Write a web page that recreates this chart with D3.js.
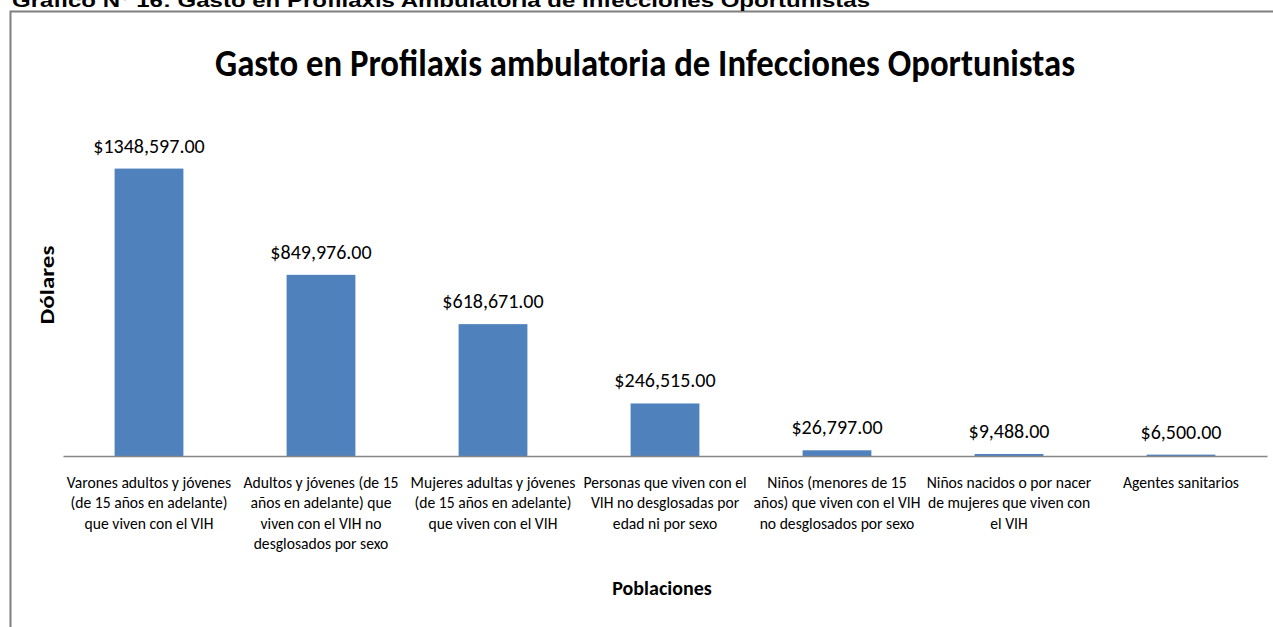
<!DOCTYPE html>
<html lang="es">
<head>
<meta charset="UTF-8">
<title>Gasto en Profilaxis ambulatoria</title>
<style>
  body { margin: 0; background: #fff; }
  svg { display: block; }
</style>
</head>
<body>
<svg width="1273" height="627"></svg>
<script src="https://d3js.org/d3.v7.min.js"></script>
<script>
// data
const categories = [
  ["Varones adultos y jóvenes", "(de 15 años en adelante)", "que viven con el VIH"],
  ["Adultos y jóvenes (de 15", "años en adelante) que", "viven con el VIH no", "desglosados por sexo"],
  ["Mujeres adultas y jóvenes", "(de 15 años en adelante)", "que viven con el VIH"],
  ["Personas que viven con el", "VIH no desglosadas por", "edad ni por sexo"],
  ["Niños (menores de 15", "años) que viven con el VIH", "no desglosados por sexo"],
  ["Niños nacidos o por nacer", "de mujeres que viven con", "el VIH"],
  ["Agentes sanitarios"]
];
const values = [1348597, 849976, 618671, 246515, 26797, 9488, 6500];
const valueLabels = ["$1348,597.00", "$849,976.00", "$618,671.00", "$246,515.00", "$26,797.00", "$9,488.00", "$6,500.00"];
const yMax = 1600000;

const svg = d3.select("svg");
const font = "Carlito, Calibri, Lato, sans-serif";
// the reference is a horizontally squeezed screenshot
const squeeze = 0.77;

// frame of the chart object (right and bottom run off the page)
svg.append("path")
    .attr("d", "M10.5,627 V11.5 H1273")
    .attr("fill", "none")
    .attr("stroke", "#7f7f7f")
    .attr("stroke-width", 2);

// document caption, cut off at the top like the source
svg.append("text")
    .attr("x", 12)
    .attr("y", 7)
    .attr("font-family", "'Liberation Sans', Arial, sans-serif")
    .attr("font-weight", "bold")
    .attr("font-size", 19)
    .attr("textLength", 858)
    .attr("lengthAdjust", "spacingAndGlyphs")
    .text("Gráfico N° 16: Gasto en Profilaxis Ambulatoria de Infecciones Oportunistas");

const margin = {left: 63, right: 1267, top: 115, bottom: 456};

const x = d3.scaleBand()
    .domain(d3.range(values.length))
    .range([margin.left, margin.right])
    .paddingInner(0.6)
    .paddingOuter(0.3);

const y = d3.scaleLinear()
    .domain([0, yMax])
    .range([margin.bottom, margin.top]);

// chart title
svg.append("text")
    .attr("x", 645)
    .attr("y", 76)
    .attr("text-anchor", "middle")
    .attr("font-family", font)
    .attr("font-weight", "bold")
    .attr("font-size", 38)
    .attr("textLength", 860)
    .attr("lengthAdjust", "spacingAndGlyphs")
    .text("Gasto en Profilaxis ambulatoria de Infecciones Oportunistas");

// bars
svg.append("g").selectAll("rect")
  .data(values)
  .join("rect")
    .attr("x", (d, i) => x(i))
    .attr("y", d => y(d))
    .attr("width", x.bandwidth())
    .attr("height", d => y(0) - y(d))
    .attr("fill", "#4f81bd");

// value labels
svg.append("g").selectAll("text")
  .data(values)
  .join("text")
    .attr("x", (d, i) => x(i) + x.bandwidth() / 2)
    .attr("y", d => y(d) - 16)
    .attr("text-anchor", "middle")
    .attr("font-family", font)
    .attr("font-size", 20)
    .attr("fill", "#000")
    .text((d, i) => valueLabels[i]);

// x axis line + category labels
const xAxis = d3.axisBottom(x).tickSize(0).tickFormat(() => "");
const gx = svg.append("g")
    .attr("transform", `translate(0,${margin.bottom})`)
    .call(xAxis);
gx.select(".domain").attr("stroke", "#868686").attr("stroke-width", 1.5);

const labels = svg.append("g").selectAll("text")
  .data(categories)
  .join("text")
    .attr("transform", (d, i) => `translate(${x(i) + x.bandwidth() / 2},${margin.bottom + 32}) scale(0.92,1)`)
    .attr("text-anchor", "middle")
    .attr("font-family", font)
    .attr("font-size", 17)
    .attr("fill", "#000");
labels.selectAll("tspan")
  .data(d => d)
  .join("tspan")
    .attr("x", 0)
    .attr("dy", (d, j) => j === 0 ? 0 : 20.5)
    .text(d => d);

// axis titles
svg.append("text")
    .attr("transform", `translate(54,285) rotate(-90) scale(1,${squeeze})`)
    .attr("text-anchor", "middle")
    .attr("font-family", font)
    .attr("font-weight", "bold")
    .attr("font-size", 25)
    .text("Dólares");

svg.append("text")
    .attr("x", 662)
    .attr("y", 595)
    .attr("text-anchor", "middle")
    .attr("font-family", font)
    .attr("font-weight", "bold")
    .attr("font-size", 20)
    .text("Poblaciones");
</script>
</body>
</html>
